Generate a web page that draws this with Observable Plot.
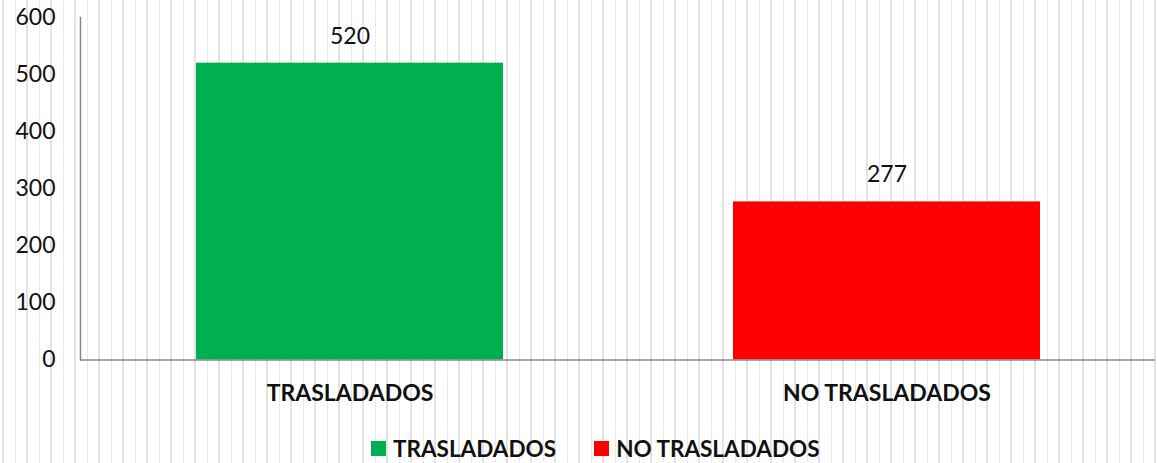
<!DOCTYPE html>
<html><head><meta charset="utf-8">
<script src="https://cdn.jsdelivr.net/npm/d3@7"></script>
<script src="https://cdn.jsdelivr.net/npm/@observablehq/plot@0.6"></script>
<style>
html,body{margin:0;padding:0;}
body{width:1158px;height:463px;overflow:hidden;background:#fff;
  background-image:repeating-linear-gradient(to right, transparent 0 2px, #e3e3e3 2px 4px, transparent 4px 15px, #e9e9e9 15px 16px, transparent 16px 24px);
  font-family:Lato,sans-serif;}
#legend{padding-top:10px;}
#legend .lg-swatch{margin-right:38px;}
#legend .lg-swatch > svg{margin-right:7px;}
</style></head><body><div id="chart"></div><div id="legend"></div>
<script>
const categories = ["TRASLADADOS", "NO TRASLADADOS"];
const values = [520, 277];
const colors = ["#00b050", "#ff0000"];
const yTicks = [0, 100, 200, 300, 400, 500, 600];

const data = categories.map((c, i) => ({category: c, value: values[i]}));

const plot = Plot.plot({
  width: 1158, height: 422,
  marginTop: 17, marginBottom: 62.5, marginLeft: 80, marginRight: 3,
  style: {background: "transparent", fontFamily: "Lato, sans-serif", fontSize: "23px", color: "#111"},
  x: {domain: categories, paddingInner: 0.429, paddingOuter: 0.2145, label: null},
  y: {domain: [0, 600], label: null},
  color: {domain: categories, range: colors},
  marks: [
    Plot.barY(data, {x: "category", y: "value", fill: "category"}),
    Plot.text(data, {x: "category", y: "value", text: d => String(d.value), dy: -27, fontSize: 23, fill: "#111"}),
    Plot.frame({anchor: "left", stroke: "#898989", strokeWidth: 1.5}),
    Plot.ruleY([0], {stroke: "#898989", strokeWidth: 1.5}),
    Plot.axisY({ticks: yTicks, tickSize: 0, tickPadding: 25, fontSize: 23, label: null}),
    Plot.axisX({tickSize: 0, tickPadding: 25, fontSize: 23, fontWeight: "bold", label: null})
  ]
});
document.getElementById("chart").appendChild(plot);

const legend = Plot.legend({
  color: {domain: categories, range: colors},
  legend: "swatches",
  swatchSize: 15,
  className: "lg",
  style: {fontFamily: "Lato, sans-serif", fontSize: "22.5px", fontWeight: "bold", color: "#111", marginLeft: "371px", background: "transparent"}
});
document.getElementById("legend").appendChild(legend);
</script>
</body></html>
